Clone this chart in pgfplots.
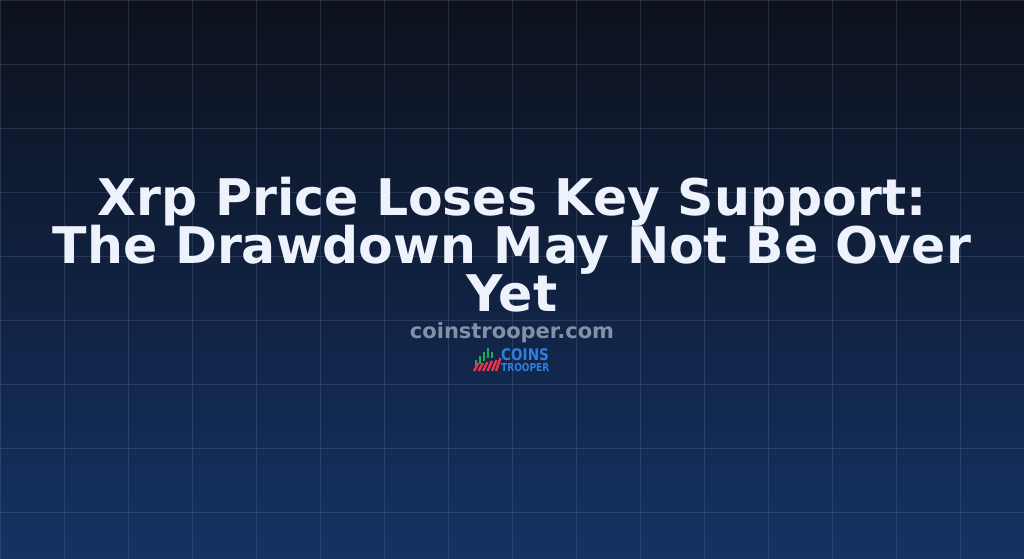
\documentclass[border=0pt]{standalone}
\usepackage{pgfplots}
\pgfplotsset{compat=1.18}
\usepackage{fontspec}
\setmainfont{DejaVu Sans}

\definecolor{bgtop}{RGB}{13,17,28}
\definecolor{bgmid}{RGB}{16,30,62}
\definecolor{bgbot}{RGB}{20,50,100}
\definecolor{gridc}{RGB}{110,130,170}
\definecolor{titlec}{RGB}{238,242,252}
\definecolor{sitec}{RGB}{132,144,168}
\definecolor{logoblue}{RGB}{46,128,224}
\definecolor{logogreen}{RGB}{30,170,90}
\definecolor{logored}{RGB}{232,52,74}

\begin{document}
\begin{tikzpicture}
\begin{axis}[
    width=1024bp, height=559bp,
    scale only axis,
    xmin=0, xmax=1024, ymin=0, ymax=559,
    y dir=reverse,
    axis background/.style={top color=bgtop, middle color=bgmid, bottom color=bgbot},
    axis line style={draw=none},
    xtick={0,64,...,1024}, ytick={0,64,...,512},
    xticklabels={}, yticklabels={},
    major tick length=0pt,
    xmajorgrids, ymajorgrids,
    grid style={gridc, opacity=0.25, line width=0.8bp},
    clip=false,
    unbounded coords=jump,
]
% logo icon: green candles and red stripes
\addplot[logogreen, line width=2.8bp] coordinates {
    (476,360) (476,366) (nan,nan)
    (480,356) (480,364) (nan,nan)
    (484,352) (484,361) (nan,nan)
    (488,348) (488,358) (nan,nan)
    (492,352) (492,358)};
\addplot[logored, line width=2.4bp] coordinates {
    (474,371) (478.5,363) (nan,nan)
    (478.5,371) (483,363) (nan,nan)
    (483,371) (487.5,362) (nan,nan)
    (487.5,371) (492,361) (nan,nan)
    (492,371) (496.5,360) (nan,nan)
    (496,371) (500.5,358)};

\node[anchor=base, text=titlec, font=\fontsize{50.5bp}{50.5bp}\selectfont\bfseries]
    at (axis cs:512,215) {Xrp Price Loses Key Support:};
\node[anchor=base, text=titlec, font=\fontsize{50.5bp}{50.5bp}\selectfont\bfseries]
    at (axis cs:512,263) {The Drawdown May Not Be Over};
\node[anchor=base, text=titlec, font=\fontsize{50.5bp}{50.5bp}\selectfont\bfseries]
    at (axis cs:512,311) {Yet};
\node[anchor=base, text=sitec, font=\fontsize{21bp}{21bp}\selectfont\bfseries]
    at (axis cs:512,338.5) {coinstrooper.com};
\node[anchor=base west, inner sep=0pt, text=logoblue, xscale=0.85,
    font=\fontsize{16bp}{16bp}\selectfont\bfseries]
    at (axis cs:501,360) {COINS};
\node[anchor=base west, inner sep=0pt, text=logoblue, xscale=0.82,
    font=\fontsize{11bp}{11bp}\selectfont\bfseries]
    at (axis cs:501,371) {TROOPER};
\end{axis}
\pgfresetboundingbox
\path (0,0) rectangle (1024bp,559bp);
\end{tikzpicture}
\end{document}
